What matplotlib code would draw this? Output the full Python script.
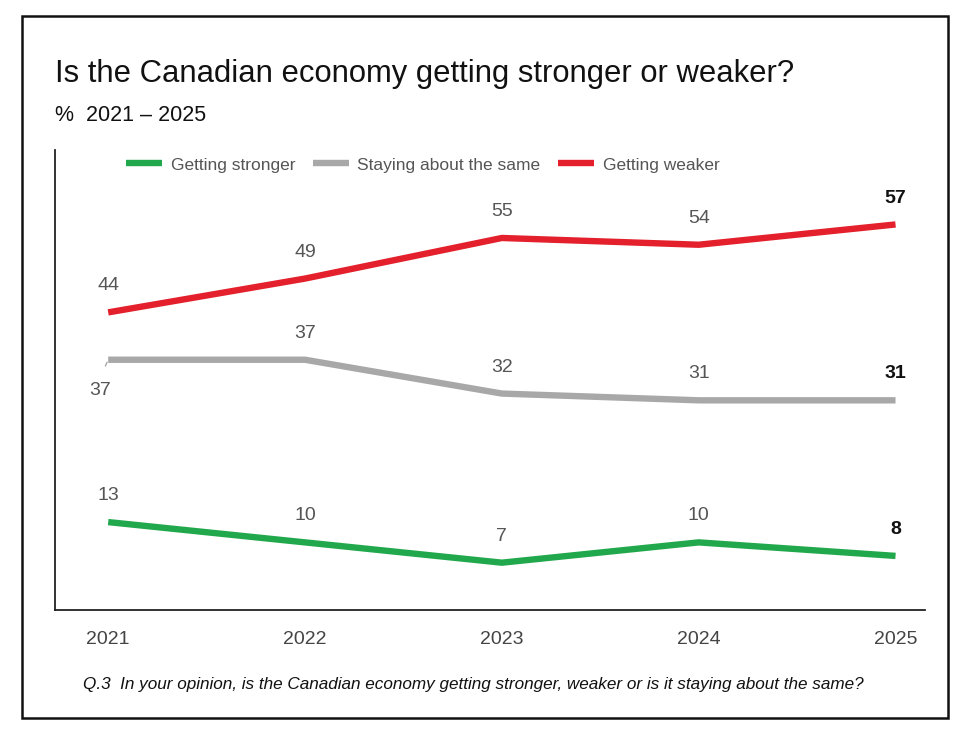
import matplotlib.pyplot as plt
from matplotlib.patches import Rectangle

years = [2021, 2022, 2023, 2024, 2025]
stronger = [13, 10, 7, 10, 8]
same = [37, 37, 32, 31, 31]
weaker = [44, 49, 55, 54, 57]
series_names = ["Getting stronger", "Staying about the same", "Getting weaker"]

font = 'Liberation Sans'
colors = ['#22a84c', '#a8a8a8', '#e3202b']

fig = plt.figure(figsize=(9.76, 7.38), dpi=100)
ax = fig.add_axes([0.0564, 0.1734, 0.8914, 0.6233])

series = [stronger, same, weaker]
for vals, name, c in zip(series, series_names, colors):
    ax.plot(years, vals, color=c, lw=4.6, solid_capstyle='butt', label=name)

# value labels, last year in bold
for vals in series:
    for i, (x, v) in enumerate(zip(years, vals)):
        last = i == len(years) - 1
        if vals is same and i == 0:
            # this one sits below, with a small leader line
            ax.annotate(str(v), (x, v), xytext=(-6, -22), textcoords='offset points',
                        ha='center', va='center', fontsize=14, color='#555555',
                        family=font)
            ax.annotate('', (x, v), xytext=(x - 0.02, v - 1.3),
                        arrowprops=dict(arrowstyle='-', color='#a8a8a8', lw=1))
            continue
        ax.annotate(str(v), (x, v), xytext=(0, 19), textcoords='offset points',
                    ha='center', va='center', fontsize=14,
                    color='#111111' if last else '#555555',
                    fontweight='bold' if last else 'normal', family=font)

ax.set_xlim(2020.73, 2025.15)
ax.set_ylim(0, 68)
ax.set_xticks(years)
ax.set_xticklabels([str(y) for y in years], family=font, fontsize=14, color='#444444')
ax.set_yticks([])
ax.tick_params(axis='x', length=0, pad=15)
for s in ['top', 'right']:
    ax.spines[s].set_visible(False)
for s in ['left', 'bottom']:
    ax.spines[s].set_linewidth(1.3)
    ax.spines[s].set_color('#222222')

leg = ax.legend(loc='upper left', bbox_to_anchor=(0.064, 1.018), ncol=3, frameon=False,
                handlelength=2.07, handletextpad=0.5, columnspacing=1.0,
                prop={'family': font, 'size': 12.5})
for t in leg.get_texts():
    t.set_color('#555555')

fig.text(0.0564, 0.9, "Is the Canadian economy getting stronger or weaker?",
         fontsize=22.3, family=font, color='#111111', va='center')
fig.text(0.0564, 0.844, "%  2021 \u2013 2025", fontsize=15.5, family=font,
         color='#111111', va='center')
fig.text(0.085, 0.072,
         "Q.3  In your opinion, is the Canadian economy getting stronger, weaker or is it staying about the same?",
         fontsize=12.3, family=font, style='italic', color='#111111', va='center')

fig.patches.append(Rectangle((0.0225, 0.027), 0.949, 0.951, transform=fig.transFigure,
                             fill=False, edgecolor='#111111', lw=1.8))

fig.savefig('out.png', dpi=100)
